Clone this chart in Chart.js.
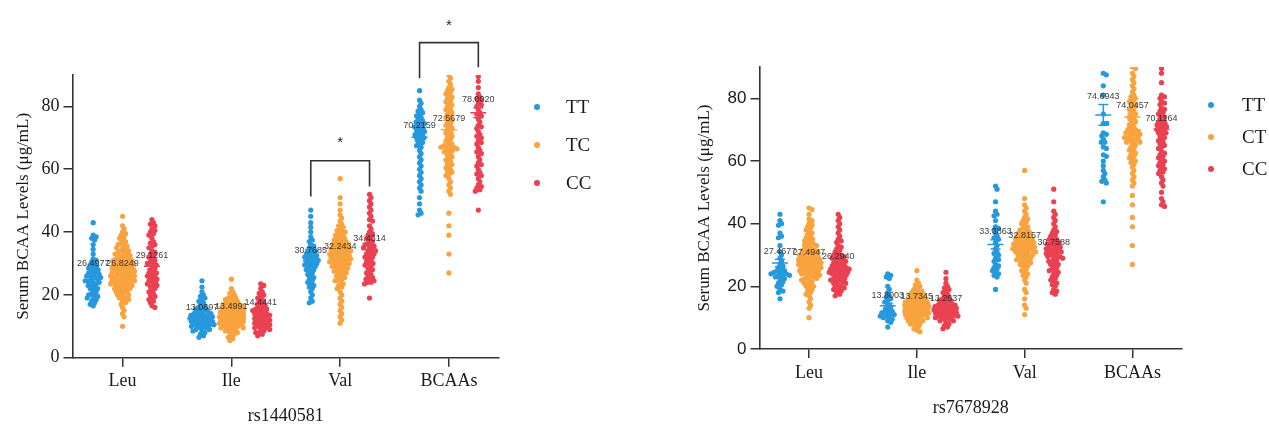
<!DOCTYPE html>
<html><head><meta charset="utf-8">
<script src="https://cdn.jsdelivr.net/npm/chart.js@4.4.1/dist/chart.umd.min.js"></script>
<style>
html,body{margin:0;padding:0;background:#fff;}
#wrap{position:relative;width:1269px;height:425px;overflow:hidden;background:#fff;}
#c1{position:absolute;left:0;top:0;}
#c2{position:absolute;left:630px;top:0;}
</style></head><body>
<div id="wrap"><canvas id="c1" width="630" height="425"></canvas><canvas id="c2" width="639" height="425"></canvas></div>
<script>
const categories = ['Leu', 'Ile', 'Val', 'BCAAs'];
const genotypesA = ['TT', 'TC', 'CC'];
const genotypesB = ['TT', 'CT', 'CC'];
const yTicks = [0, 20, 40, 60, 80];

// ---------- rs1440581 ----------
const L_TT_Leu = [43, 39, 38.5, 38, 37.5, 36, 34.5, 33, 31.5, 31, 30.5, 30, 29.5, 29, 29, 28.5, 28, 28, 27.5, 27, 27, 26.5, 26.5, 26, 26, 25.5, 25.5, 25, 25, 24.5, 24.5, 24, 24, 23.5, 23, 23, 22.5, 22, 22, 21.5, 21, 20.5, 20, 20, 19.5, 19, 19, 18.5, 18, 17.5, 17, 16.5];
const L_TC_Leu = [45, 42, 41, 40, 39.5, 39, 38.5, 38, 37.5, 37, 36.5, 36, 36, 35.5, 35, 35, 34.5, 34, 34, 33.5, 33.5, 33, 33, 32.5, 32.5, 32, 32, 31.5, 31.5, 31, 31, 31, 30.5, 30.5, 30, 30, 30, 29.5, 29.5, 29, 29, 29, 28.5, 28.5, 28.5, 28, 28, 28, 27.5, 27.5, 27.5, 27, 27, 27, 26.5, 26.5, 26.5, 26, 26, 26, 25.5, 25.5, 25.5, 25, 25, 25, 24.5, 24.5, 24.5, 24, 24, 24, 23.5, 23.5, 23.5, 23, 23, 23, 22.5, 22.5, 22, 22, 22, 21.5, 21.5, 21, 21, 20.5, 20.5, 20, 20, 19.5, 19, 19, 18.5, 18, 17.5, 17, 16, 15, 14, 13, 10];
const L_CC_Leu = [44, 43, 42.5, 42, 41, 40.5, 40, 39.5, 39, 38, 37, 36.5, 36, 35.5, 35, 34, 33.5, 33, 32.5, 32, 31.5, 31, 30.5, 30, 30, 29.5, 29, 28.5, 28, 27.5, 27, 27, 26.5, 26, 26, 25.5, 25, 25, 24.5, 24, 24, 23.5, 23, 23, 22.5, 22, 21.5, 21, 20.5, 20, 19.5, 19, 18.5, 18, 17.5, 16.5, 16];
const L_TT_Ile = [24.5, 22.5, 21, 20, 19.5, 19, 18.5, 18, 17.5, 17, 16.5, 16, 16, 15.5, 15.5, 15, 15, 14.5, 14.5, 14, 14, 14, 13.5, 13.5, 13.5, 13, 13, 13, 12.5, 12.5, 12.5, 12, 12, 12, 11.5, 11.5, 11.5, 11, 11, 11, 10.5, 10.5, 10.5, 10, 10, 10, 9.5, 9.5, 9, 9, 8.5, 8.5, 8, 7.5, 7, 6.5];
const L_TC_Ile = [25, 22, 21, 20.5, 20, 19.5, 19, 19, 18.5, 18.5, 18, 18, 17.5, 17.5, 17, 17, 17, 16.5, 16.5, 16.5, 16, 16, 16, 15.5, 15.5, 15.5, 15, 15, 15, 15, 14.5, 14.5, 14.5, 14.5, 14, 14, 14, 14, 13.5, 13.5, 13.5, 13.5, 13, 13, 13, 13, 12.5, 12.5, 12.5, 12.5, 12, 12, 12, 12, 11.5, 11.5, 11.5, 11.5, 11, 11, 11, 11, 10.5, 10.5, 10.5, 10, 10, 10, 9.5, 9.5, 9.5, 9, 9, 8.5, 8.5, 8, 8, 7.5, 7, 6.5, 6, 5.5];
const L_CC_Ile = [23.5, 23, 22, 21, 20.5, 20, 19.5, 19, 18.5, 18, 17.5, 17, 17, 16.5, 16, 16, 15.5, 15.5, 15, 15, 14.5, 14.5, 14, 14, 13.5, 13.5, 13, 13, 12.5, 12.5, 12, 12, 11.5, 11.5, 11, 11, 10.5, 10.5, 10, 10, 9.5, 9.5, 9, 9, 8.5, 8, 8, 7.5, 7];
const L_TT_Val = [47, 45, 43, 41.5, 40, 38.5, 37.5, 37, 36, 35.5, 35, 34.5, 34, 34, 33.5, 33, 33, 32.5, 32.5, 32, 32, 31.5, 31.5, 31, 31, 30.5, 30.5, 30, 30, 29.5, 29.5, 29, 29, 28.5, 28, 28, 27.5, 27, 26.5, 26, 25.5, 25, 24.5, 24, 23.5, 23, 22.5, 22, 21, 20, 19, 18, 17.5];
const L_TC_Val = [57, 51, 49, 47, 45.5, 44.5, 43.5, 42.5, 42, 41.5, 41, 40.5, 40, 40, 39.5, 39, 39, 38.5, 38, 38, 37.5, 37.5, 37, 37, 36.5, 36.5, 36, 36, 36, 35.5, 35.5, 35, 35, 35, 34.5, 34.5, 34.5, 34, 34, 34, 33.5, 33.5, 33.5, 33, 33, 33, 32.5, 32.5, 32.5, 32, 32, 32, 31.5, 31.5, 31.5, 31, 31, 31, 30.5, 30.5, 30.5, 30, 30, 30, 29.5, 29.5, 29, 29, 29, 28.5, 28.5, 28, 28, 27.5, 27.5, 27, 27, 26.5, 26, 26, 25.5, 25, 25, 24.5, 24, 23.5, 23, 22.5, 22, 21, 20, 19, 18, 17, 16, 15, 14, 13, 12, 11];
const L_CC_Val = [52, 51, 50, 49, 48, 47, 46, 45, 44, 43.5, 42, 41, 40, 39.5, 39, 38.5, 38, 37.5, 37, 36.5, 36, 36, 35.5, 35, 35, 34.5, 34, 34, 33.5, 33, 33, 32.5, 32, 32, 31.5, 31, 30.5, 30, 30, 29.5, 29, 28.5, 28, 27.5, 27, 26.5, 26, 25.5, 25, 25, 24.5, 24, 24, 23.5, 19];
const L_TT_BCAAs = [85, 82, 81, 80, 79, 78.5, 78, 77.5, 77, 76.5, 76, 75.5, 75, 75, 74.5, 74, 74, 73.5, 73, 73, 72.5, 72, 72, 71.5, 71, 71, 70.5, 70, 70, 69.5, 69, 68.5, 68, 67.5, 67, 66, 65, 64, 63, 62, 61, 60, 59, 58, 57, 56, 55, 54, 53, 51, 49, 47, 46, 45.5];
const L_TC_BCAAs = [90, 89, 88, 87, 86, 85.5, 85, 84.5, 84, 83.5, 83, 82.5, 82, 81.5, 81, 80.5, 80, 79.5, 79, 78.5, 78, 77.5, 77, 76.5, 76, 75.5, 75, 74.5, 74, 73.5, 73, 72.5, 72, 71.5, 71, 70.5, 70, 69.5, 69, 68.5, 68, 67.5, 67.5, 67, 67, 67, 66.5, 66.5, 66, 66, 65.5, 65, 64.5, 64, 63.5, 63, 62.5, 62, 61.5, 61, 60.5, 60, 59.5, 59, 58.5, 58, 57, 56, 55, 54, 53, 52, 46, 42, 39, 33, 27];
const L_CC_BCAAs = [89.5, 88, 86, 84, 83, 82.5, 82, 81, 80.5, 80, 79, 78, 77.5, 77, 76, 75, 74, 73.5, 73, 72, 71, 70.5, 70, 69, 68.5, 68, 67, 66, 65.5, 65, 64, 63, 62, 61.5, 61, 60, 59, 58.5, 58, 57, 56, 55, 54.5, 54, 53.5, 53, 47];
const L_mean_TT = [26.4977, 13.0697, 30.7685, 70.2159];
const L_mean_TC = [26.8249, 13.4991, 32.2434, 72.5679];
const L_mean_CC = [29.1261, 14.4441, 34.4314, 78.0020];
const L_sem_TT = [0.9, 0.5, 0.9, 1.3];
const L_sem_TC = [0.6, 0.35, 0.7, 1.0];
const L_sem_CC = [1.0, 0.5, 1.1, 1.6];

// ---------- rs7678928 ----------
const R_TT_Leu = [43, 41, 40, 39.5, 37, 36, 35.5, 33, 31, 30, 29, 28, 27, 26.5, 26, 25.5, 25, 25, 24.5, 24.5, 24, 24, 24, 23.5, 23.5, 23, 23, 22.5, 22, 21.5, 21, 20.5, 20, 19, 18.5, 18, 16];
const R_CT_Leu = [45, 44.5, 43, 41.5, 41, 40, 39.5, 39, 38.5, 38, 37.5, 37, 36.5, 36, 35.5, 35, 35, 34.5, 34, 33.5, 33.5, 33, 33, 32.5, 32, 32, 31.5, 31.5, 31, 31, 30.5, 30.5, 30, 30, 30, 29.5, 29.5, 29, 29, 29, 28.5, 28.5, 28.5, 28, 28, 28, 27.5, 27.5, 27.5, 27, 27, 27, 26.5, 26.5, 26.5, 26, 26, 26, 25.5, 25.5, 25.5, 25, 25, 25, 24.5, 24.5, 24, 24, 24, 23.5, 23.5, 23, 23, 22.5, 22.5, 22, 22, 21.5, 21, 21, 20.5, 20, 20, 19.5, 19, 18.5, 18, 17.5, 17, 16, 15, 14, 13, 10];
const R_CC_Leu = [43, 42, 41, 40, 39, 38, 37, 36, 35, 34.5, 34, 33, 32.5, 32, 31.5, 31, 30.5, 30, 30, 29.5, 29.5, 29, 29, 28.5, 28.5, 28, 28, 27.5, 27.5, 27, 27, 26.5, 26.5, 26, 26, 26, 25.5, 25.5, 25.5, 25, 25, 25, 24.5, 24.5, 24.5, 24, 24, 24, 23.5, 23.5, 23, 23, 22.5, 22.5, 22, 22, 21.5, 21.5, 21, 21, 20.5, 20, 20, 19.5, 19, 19, 18.5, 18, 17.5, 17];
const R_TT_Ile = [24, 23.5, 23, 22.5, 20, 19, 18, 17, 16.5, 16, 15.5, 15, 14, 13.5, 13, 12.5, 12, 12, 11.5, 11.5, 11, 11, 10.5, 10.5, 10, 10, 9.5, 9, 8.5, 7];
const R_CT_Ile = [25, 22, 21, 20.5, 20, 19.5, 19, 18.5, 18.5, 18, 18, 17.5, 17.5, 17, 17, 17, 16.5, 16.5, 16, 16, 16, 15.5, 15.5, 15.5, 15, 15, 15, 15, 14.5, 14.5, 14.5, 14.5, 14, 14, 14, 14, 13.5, 13.5, 13.5, 13.5, 13, 13, 13, 13, 12.5, 12.5, 12.5, 12.5, 12, 12, 12, 12, 11.5, 11.5, 11.5, 11.5, 11, 11, 11, 11, 10.5, 10.5, 10.5, 10, 10, 10, 9.5, 9.5, 9.5, 9, 9, 8.5, 8.5, 8, 8, 7.5, 7, 6.5, 6, 5.5];
const R_CC_Ile = [24.5, 22.5, 21, 20, 19.5, 19, 18.5, 18, 17.5, 17, 16.5, 16, 16, 15.5, 15.5, 15, 15, 14.5, 14.5, 14, 14, 14, 13.5, 13.5, 13.5, 13, 13, 13, 12.5, 12.5, 12.5, 12, 12, 12, 11.5, 11.5, 11.5, 11, 11, 11, 10.5, 10.5, 10.5, 10, 10, 10, 9.5, 9.5, 9, 9, 8.5, 8, 7.5, 7, 6.5];
const R_TT_Val = [52, 51, 47, 44, 43, 42.5, 41, 39, 38.5, 38, 37, 36, 35.5, 35, 34, 33, 32, 31, 30.5, 30, 29, 28.5, 28, 27, 26.5, 26, 25.5, 25, 24.5, 24, 23.5, 23, 19];
const R_CT_Val = [57, 48, 46, 45, 44, 43, 42, 41.5, 41, 40.5, 40, 39.5, 39, 38.5, 38, 38, 37.5, 37, 37, 36.5, 36.5, 36, 36, 35.5, 35.5, 35, 35, 35, 34.5, 34.5, 34, 34, 34, 33.5, 33.5, 33.5, 33, 33, 33, 32.5, 32.5, 32.5, 32, 32, 32, 31.5, 31.5, 31.5, 31, 31, 31, 30.5, 30.5, 30, 30, 30, 29.5, 29.5, 29, 29, 28.5, 28.5, 28, 28, 27.5, 27, 27, 26.5, 26, 25.5, 25, 24.5, 24, 23.5, 23, 22, 21, 19, 18, 16, 14, 13, 11];
const R_CC_Val = [51, 47, 44, 43, 42, 41, 40, 39, 38, 37.5, 37, 36.5, 36, 35.5, 35, 35, 34.5, 34, 34, 33.5, 33.5, 33, 33, 32.5, 32.5, 32, 32, 31.5, 31.5, 31, 31, 30.5, 30.5, 30, 30, 29.5, 29.5, 29, 29, 28.5, 28, 28, 27.5, 27, 27, 26.5, 26, 25.5, 25, 25, 24.5, 24, 23.5, 23, 22.5, 22, 21.5, 21, 20.5, 20, 19, 18.5, 18, 17.5];
const R_TT_BCAAs = [88, 87.5, 84, 81, 75, 72, 72, 69, 68.5, 68, 67, 66, 66, 64.5, 64, 62, 61.5, 60, 58.5, 57, 56, 55, 54, 53.5, 53, 47];
const R_CT_BCAAs = [90, 89.5, 88, 87, 86, 85, 84, 83, 82, 81, 80.5, 80, 79.5, 79, 78.5, 78, 77.5, 77, 76.5, 76, 75.5, 75, 74.5, 74, 73.5, 73, 72.5, 72, 71.5, 71, 70.5, 70, 70, 69.5, 69.5, 69, 69, 68.5, 68.5, 68, 68, 67.5, 67.5, 67, 67, 66.5, 66.5, 66, 66, 65.5, 65, 64.5, 64, 63.5, 63, 62.5, 62, 61.5, 61, 60.5, 60, 59.5, 59, 58, 57, 56, 55, 54, 53, 52, 49, 46, 42, 39, 33, 27];
const R_CC_BCAAs = [89.5, 88, 85, 81, 80.5, 80, 79, 78.5, 78, 77, 76.5, 76, 75.5, 75, 74.5, 74, 73.5, 73, 72.5, 72, 72, 71.5, 71, 71, 70.5, 70, 70, 69.5, 69, 69, 68.5, 68, 67.5, 67, 66.5, 66, 65.5, 65, 64.5, 64, 63, 62.5, 62, 61.5, 61, 60.5, 60, 59.5, 59, 58.5, 58, 57.5, 57, 56.5, 56, 55, 54, 53, 52, 50, 48, 47, 46, 45.5];
const R_mean_TT = [27.4677, 13.8003, 33.3863, 74.6943];
const R_mean_CT = [27.4947, 13.7345, 32.8157, 74.0457];
const R_mean_CC = [26.2940, 13.2637, 30.7588, 70.1164];
const R_sem_TT = [1.2, 0.8, 1.5, 3.3];
const R_sem_CT = [0.6, 0.35, 0.7, 1.0];
const R_sem_CC = [0.6, 0.4, 0.6, 1.0];

// significance brackets (rs1440581)
const sigCats = ['Val', 'BCAAs'];
const sigLegL = [51.3, 89.0];
const sigLegR = [54.5, 92.5];
const sigBar = [62.7, 100.3];
const sigStar = [69.5, 106.5];

const colors = ['#2698DE', '#F8A33E', '#EA4152'];
const DODGE = 0.27;

function beeswarm(vals, ys, d, maxW) {
  const order = vals.map((v, i) => i).sort((a, b) => vals[b] - vals[a]);
  const placed = [];
  const off = new Array(vals.length).fill(0);
  for (const i of order) {
    const y = ys.getPixelForValue(vals[i]);
    let best = 0, bestCost = Infinity;
    for (let k = 0; k < 200; k++) {
      const m = Math.ceil(k / 2) * 0.5;
      if (m > maxW) break;
      const cand = k === 0 ? 0 : (k % 2 ? m : -m);
      let cost = 0;
      for (const p of placed) {
        const dx = p.x - cand, dy = p.y - y;
        const dist2 = dx * dx + dy * dy;
        if (dist2 < d * d) cost += (d * d - dist2);
      }
      if (cost === 0) { best = cand; bestCost = 0; break; }
      if (cost < bestCost) { bestCost = cost; best = cand; }
    }
    placed.push({ x: best, y });
    off[i] = best;
  }
  return off;
}

const overlayPlugin = {
  id: 'overlay',
  afterDatasetsDraw(chart) {
    const o = chart.options.plugins.overlay;
    const { ctx, scales: { x: xs, y: ys }, chartArea } = chart;
    ctx.save();
    o.means.forEach((arr, gi) => {
      arr.forEach((m, ci) => {
        const cx = xs.getPixelForValue(ci + 1 + (gi - 1) * DODGE);
        const s = o.sems[gi][ci];
        const yTop = ys.getPixelForValue(m + s), yBot = ys.getPixelForValue(m - s), yM = ys.getPixelForValue(m);
        ctx.strokeStyle = colors[gi];
        ctx.lineWidth = 1.5;
        ctx.beginPath();
        ctx.moveTo(cx, yTop); ctx.lineTo(cx, yBot);
        ctx.moveTo(cx - 5, yTop); ctx.lineTo(cx + 5, yTop);
        ctx.moveTo(cx - 5, yBot); ctx.lineTo(cx + 5, yBot);
        ctx.moveTo(cx - 8, yM); ctx.lineTo(cx + 8, yM);
        ctx.stroke();
        ctx.fillStyle = 'rgba(40,40,40,0.9)';
        ctx.font = '9px "Liberation Sans", Arial, sans-serif';
        ctx.textAlign = 'center';
        ctx.textBaseline = 'middle';
        ctx.fillText(m.toFixed(4), cx, yTop - 8);
      });
    });
    if (o.sig) {
      ctx.strokeStyle = '#333';
      ctx.lineWidth = 1.6;
      o.sig.cats.forEach((cat, i) => {
        const ci = categories.indexOf(cat) + 1;
        const x1 = xs.getPixelForValue(ci - DODGE), x2 = xs.getPixelForValue(ci + DODGE);
        const yb = ys.getPixelForValue(o.sig.bar[i]);
        ctx.beginPath();
        ctx.moveTo(x1, ys.getPixelForValue(o.sig.legL[i]));
        ctx.lineTo(x1, yb); ctx.lineTo(x2, yb);
        ctx.lineTo(x2, ys.getPixelForValue(o.sig.legR[i]));
        ctx.stroke();
        ctx.fillStyle = '#222';
        ctx.font = '15px "Liberation Sans", Arial, sans-serif';
        ctx.textAlign = 'center';
        ctx.textBaseline = 'middle';
        ctx.fillText('*', xs.getPixelForValue(ci), ys.getPixelForValue(o.sig.star[i]) + 3);
      });
    }
    o.legend.labels.forEach((lab, gi) => {
      const lx = chartArea.right + o.legend.dx;
      const ly = chartArea.top + o.legend.dy + gi * o.legend.gap;
      ctx.fillStyle = colors[gi];
      ctx.beginPath(); ctx.arc(lx, ly, 3, 0, Math.PI * 2); ctx.fill();
      ctx.fillStyle = '#1a1a1a';
      ctx.font = '19px "Liberation Serif", "Times New Roman", serif';
      ctx.textAlign = 'left';
      ctx.textBaseline = 'middle';
      ctx.fillText(lab, lx + o.legend.tx, ly + 1);
    });
    ctx.restore();
  }
};

function makePanel(id, cfg) {
  const datasets = cfg.groups.map((g, gi) => ({
    label: cfg.genotypes[gi],
    data: g.flatMap((vals, ci) => vals.map(v => ({ x: ci + 1 + (gi - 1) * DODGE, y: v }))),
    backgroundColor: colors[gi],
    borderWidth: 0,
    pointRadius: 2.6,
    pointHoverRadius: 2.6
  }));
  const chart = new Chart(document.getElementById(id), {
    type: 'scatter',
    data: { datasets },
    options: {
      responsive: false,
      animation: false,
      events: [],
      layout: { padding: cfg.padding },
      plugins: {
        legend: { display: false },
        tooltip: { enabled: false },
        overlay: { means: cfg.means, sems: cfg.sems, sig: cfg.sig, legend: cfg.legend }
      },
      scales: {
        x: {
          type: 'linear', min: 0.54, max: 4.46,
          afterBuildTicks: s => { s.ticks = [1, 2, 3, 4].map(v => ({ value: v })); },
          afterFit: s => { s.height = cfg.xHeight; },
          ticks: {
            callback: v => categories[v - 1],
            font: { family: '"Liberation Serif", "Times New Roman", serif', size: 18 },
            color: '#1a1a1a', padding: 4, autoSkip: false, maxRotation: 0
          },
          grid: { drawOnChartArea: false, drawTicks: true, tickLength: 9, color: '#333', lineWidth: 1.5 },
          border: { display: true, color: '#333', width: 1.6 },
          title: {
            display: true, text: cfg.xTitle, color: '#1a1a1a',
            font: { family: '"Liberation Serif", "Times New Roman", serif', size: 18, lineHeight: 1 },
            padding: { top: 0, bottom: cfg.xTitlePad }
          }
        },
        y: {
          min: 0, max: 90,
          afterBuildTicks: s => { s.ticks = yTicks.map(v => ({ value: v })); },
          afterFit: s => { s.width = cfg.yWidth; },
          ticks: { font: cfg.yTickFont, color: '#1a1a1a', padding: 4 },
          grid: { drawOnChartArea: false, drawTicks: true, tickLength: 9, color: '#333', lineWidth: 1.5 },
          border: { display: true, color: '#333', width: 1.6 },
          title: {
            display: true, text: 'Serum BCAA Levels (μg/mL)', color: '#1a1a1a',
            font: { family: '"Liberation Serif", "Times New Roman", serif', size: 17, lineHeight: 1.2 },
            padding: { top: cfg.yTitlePad, bottom: 0 }
          }
        }
      }
    },
    plugins: [overlayPlugin]
  });
  const xs = chart.scales.x, ys = chart.scales.y;
  const pxPerUnit = xs.getPixelForValue(1) - xs.getPixelForValue(0);
  cfg.groups.forEach((g, gi) => {
    const pts = [];
    g.forEach((vals, ci) => {
      const off = beeswarm(vals, ys, cfg.minDist, cfg.maxHalfWidth);
      vals.forEach((v, i) => pts.push({ x: ci + 1 + (gi - 1) * DODGE + off[i] / pxPerUnit, y: v }));
    });
    chart.data.datasets[gi].data = pts;
  });
  chart.update('none');
  return chart;
}

makePanel('c1', {
  genotypes: genotypesA,
  groups: [
    [L_TT_Leu, L_TT_Ile, L_TT_Val, L_TT_BCAAs],
    [L_TC_Leu, L_TC_Ile, L_TC_Val, L_TC_BCAAs],
    [L_CC_Leu, L_CC_Ile, L_CC_Val, L_CC_BCAAs]
  ],
  means: [L_mean_TT, L_mean_TC, L_mean_CC],
  sems: [L_sem_TT, L_sem_TC, L_sem_CC],
  sig: { cats: sigCats, legL: sigLegL, legR: sigLegR, bar: sigBar, star: sigStar },
  legend: { labels: genotypesA, dx: 38, dy: 32, gap: 38, tx: 29 },
  padding: { left: 0, right: 131, top: 75, bottom: 0 },
  yWidth: 72.5, xHeight: 67.3, xTitlePad: 0, yTitlePad: 13,
  yTickFont: { family: '"Liberation Serif", "Times New Roman", serif', size: 18 },
  xTitle: 'rs1440581', minDist: 3.3, maxHalfWidth: 12
});

makePanel('c2', {
  genotypes: genotypesB,
  groups: [
    [R_TT_Leu, R_TT_Ile, R_TT_Val, R_TT_BCAAs],
    [R_CT_Leu, R_CT_Ile, R_CT_Val, R_CT_BCAAs],
    [R_CC_Leu, R_CC_Ile, R_CC_Val, R_CC_BCAAs]
  ],
  means: [R_mean_TT, R_mean_CT, R_mean_CC],
  sems: [R_sem_TT, R_sem_CT, R_sem_CC],
  sig: null,
  legend: { labels: genotypesB, dx: 29, dy: 38, gap: 32, tx: 31 },
  padding: { left: 57.5, right: 87, top: 67, bottom: 0 },
  yWidth: 72, xHeight: 76, xTitlePad: 8, yTitlePad: 7,
  yTickFont: { family: '"Liberation Sans", Arial, sans-serif', size: 17 },
  xTitle: 'rs7678928', minDist: 3.3, maxHalfWidth: 12
});
</script>
</body></html>
